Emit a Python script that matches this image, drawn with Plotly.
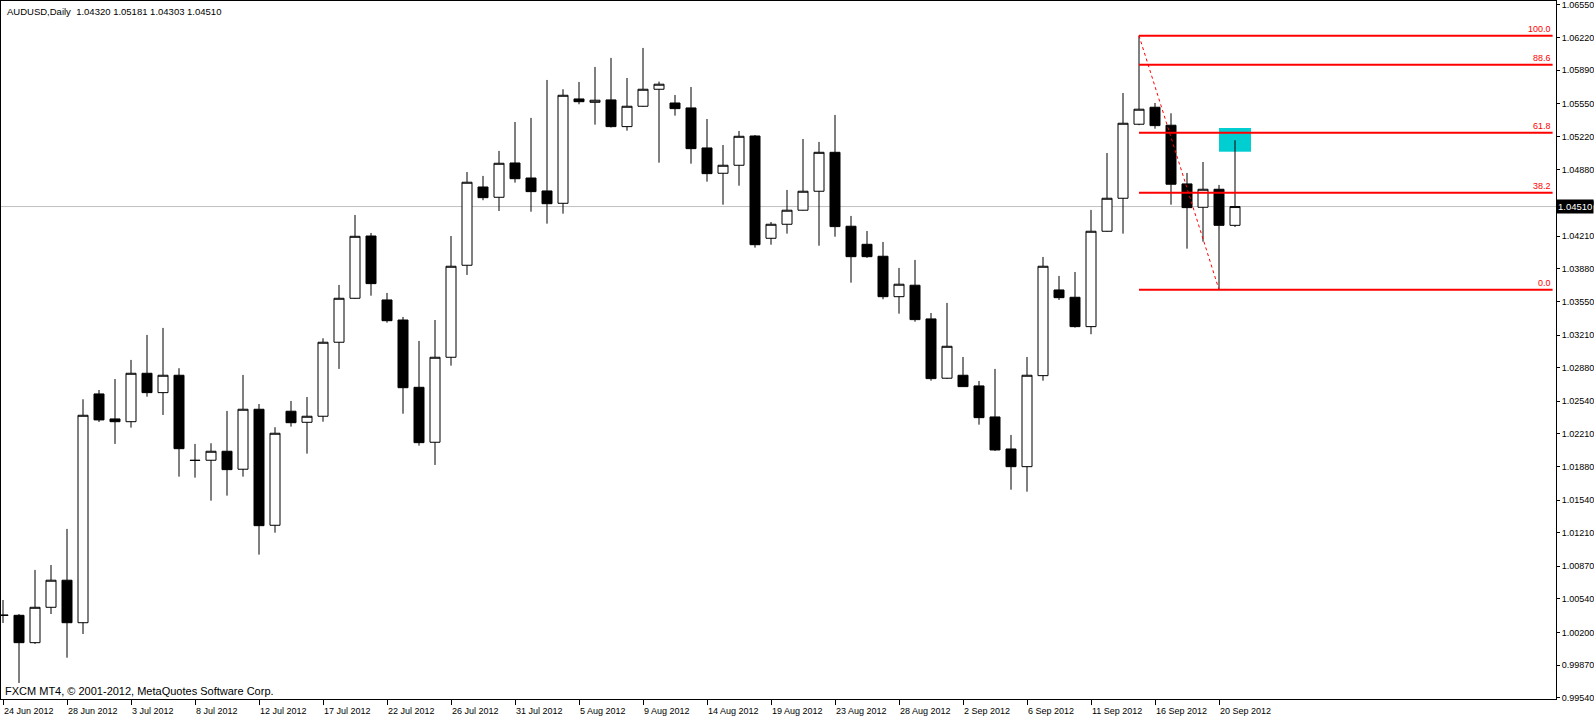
import plotly.graph_objects as go

# ---------------- data ----------------
bar_index = list(range(78))

open_ = [1.00378, 1.00374, 1.00097, 1.00455, 1.00729, 1.00299, 1.02614, 1.02361, 1.02333, 1.02823,
         1.02627, 1.02803, 1.01943, 1.01943, 1.02034, 1.01852, 1.02459, 1.01285, 1.02439, 1.02327,
         1.02388, 1.03137, 1.03582, 1.04212, 1.03565, 1.03362, 1.02681, 1.02125, 1.02985, 1.03916,
         1.04708, 1.04604, 1.04951, 1.04799, 1.04668, 1.04543, 1.05599, 1.05565, 1.05589, 1.05319,
         1.05525, 1.05697, 1.05558, 1.05508, 1.05103, 1.04847, 1.04928, 1.05224, 1.04189, 1.04331,
         1.04473, 1.04665, 1.05059, 1.04311, 1.04128, 1.04007, 1.03598, 1.03714, 1.03373, 1.02773,
         1.02803, 1.02695, 1.02381, 1.02057, 1.01878, 1.02799, 1.03666, 1.03592, 1.03295, 1.04260,
         1.04594, 1.05343, 1.05515, 1.05333, 1.04739, 1.04503, 1.04685, 1.04320]
high = [1.00529, 1.00387, 1.00833, 1.00883, 1.01248, 1.02560, 1.02654, 1.02765, 1.02958, 1.03211,
        1.03282, 1.02874, 1.02108, 1.02115, 1.02442, 1.02806, 1.02512, 1.02277, 1.02543, 1.02583,
        1.03177, 1.03717, 1.04425, 1.04243, 1.03636, 1.03393, 1.03150, 1.03362, 1.04212, 1.04860,
        1.04820, 1.05073, 1.05366, 1.05407, 1.05791, 1.05697, 1.05771, 1.05923, 1.06014, 1.05811,
        1.06115, 1.05774, 1.05639, 1.05720, 1.05396, 1.05133, 1.05275, 1.05234, 1.04354, 1.04678,
        1.05194, 1.05164, 1.05437, 1.04415, 1.04263, 1.04152, 1.03889, 1.03970, 1.03433, 1.03535,
        1.02988, 1.02745, 1.02867, 1.02199, 1.02988, 1.04000, 1.03808, 1.03848, 1.04476, 1.05052,
        1.05659, 1.06239, 1.05558, 1.05454, 1.04850, 1.04961, 1.04729, 1.05181]
low = [1.00296, 0.99689, 1.00084, 1.00387, 0.99945, 1.00185, 1.02330, 1.02108, 1.02273, 1.02586,
       1.02401, 1.01777, 1.01767, 1.01534, 1.01585, 1.01777, 1.00988, 1.01210, 1.02283, 1.02010,
       1.02333, 1.02867, 1.03575, 1.03608, 1.03335, 1.02414, 1.02091, 1.01895, 1.02900, 1.03818,
       1.04574, 1.04465, 1.04752, 1.04458, 1.04337, 1.04438, 1.05545, 1.05339, 1.05310, 1.05278,
       1.05520, 1.04954, 1.05430, 1.04944, 1.04762, 1.04529, 1.04721, 1.04094, 1.04124, 1.04236,
       1.04470, 1.04114, 1.04205, 1.03740, 1.03990, 1.03572, 1.03426, 1.03345, 1.02748, 1.02765,
       1.02685, 1.02303, 1.02037, 1.01645, 1.01625, 1.02748, 1.03565, 1.03285, 1.03218, 1.04255,
       1.04236, 1.05333, 1.05298, 1.04529, 1.04084, 1.04155, 1.03669, 1.04303]
close = [1.00372, 1.00097, 1.00455, 1.00729, 1.00299, 1.02398, 1.02351, 1.02333, 1.02823, 1.02627,
         1.02803, 1.02060, 1.01941, 1.02034, 1.01848, 1.02459, 1.01281, 1.02216, 1.02323, 1.02388,
         1.03137, 1.03582, 1.04209, 1.03730, 1.03355, 1.02677, 1.02121, 1.02985, 1.03906, 1.04756,
         1.04600, 1.04948, 1.04792, 1.04661, 1.04539, 1.05636, 1.05571, 1.05586, 1.05319, 1.05525,
         1.05697, 1.05748, 1.05501, 1.05096, 1.04843, 1.04928, 1.05221, 1.04124, 1.04331, 1.04473,
         1.04665, 1.05059, 1.04307, 1.04003, 1.04003, 1.03598, 1.03724, 1.03366, 1.02769, 1.03096,
         1.02688, 1.02374, 1.02047, 1.01878, 1.02803, 1.03906, 1.03588, 1.03295, 1.04260, 1.04594,
         1.05353, 1.05495, 1.05329, 1.04736, 1.04499, 1.04685, 1.04320, 1.04510]

date_tick_bars = [0, 4, 8, 12, 16, 20, 24, 28, 32, 36, 40, 44, 48, 52, 56, 60, 64, 68, 72, 76]
date_labels = ["24 Jun 2012", "28 Jun 2012", "3 Jul 2012", "8 Jul 2012", "12 Jul 2012",
               "17 Jul 2012", "22 Jul 2012", "26 Jul 2012", "31 Jul 2012", "5 Aug 2012",
               "9 Aug 2012", "14 Aug 2012", "19 Aug 2012", "23 Aug 2012", "28 Aug 2012",
               "2 Sep 2012", "6 Sep 2012", "11 Sep 2012", "16 Sep 2012", "20 Sep 2012"]

price_ticks = [1.06550, 1.06220, 1.05890, 1.05550, 1.05220, 1.04880, 1.04550, 1.04210,
               1.03880, 1.03550, 1.03210, 1.02880, 1.02540, 1.02210, 1.01880, 1.01540,
               1.01210, 1.00870, 1.00540, 1.00200, 0.99870, 0.99540]
price_labels = ["%.5f" % v for v in price_ticks]

fib_percents = [100.0, 88.6, 61.8, 38.2, 0.0]
fib_bars = [71, 76]          # swing high bar, swing low bar
fib_high = 1.06239
fib_low = 1.03669
fib_end_bar = 96.85

zone_bars = [76, 78]
zone_prices = [1.05065, 1.05305]

last_price = 1.04510
title_text = "AUDUSD,Daily  1.04320 1.05181 1.04303 1.04510"
footer_text = "FXCM MT4, \u00a9 2001-2012, MetaQuotes Software Corp."

# ---------------- figure ----------------
FONT = "Liberation Sans"
RED = "#FF0000"

fig = go.Figure()

# fibonacci lines
fib_values = [fib_low + p / 100.0 * (fib_high - fib_low) for p in fib_percents]
for p, v in zip(fib_percents, fib_values):
    fig.add_trace(go.Scatter(x=[fib_bars[0], fib_end_bar], y=[v, v], mode="lines",
                             line=dict(color=RED, width=2), hoverinfo="skip", showlegend=False))

# current price line
fig.add_shape(type="line", xref="paper", x0=0, x1=1, yref="y", y0=last_price, y1=last_price,
              line=dict(color="#C0C0C0", width=1), layer="below")

# cyan zone
fig.add_shape(type="rect", xref="x", yref="y", x0=zone_bars[0], x1=zone_bars[1],
              y0=zone_prices[0], y1=zone_prices[1], fillcolor="#00CED1",
              line=dict(width=0), layer="below")

# candles
fig.add_trace(go.Candlestick(
    x=bar_index, open=open_, high=high, low=low, close=close,
    increasing=dict(line=dict(color="black", width=1), fillcolor="white"),
    decreasing=dict(line=dict(color="black", width=1), fillcolor="black"),
    whiskerwidth=0, hoverinfo="skip", showlegend=False))

# fib trend line (dotted)
fig.add_trace(go.Scatter(x=fib_bars, y=[fib_high, fib_low], mode="lines",
                         line=dict(color=RED, width=1, dash="dot"),
                         hoverinfo="skip", showlegend=False))

annotations = []
for p, v in zip(fib_percents, fib_values):
    annotations.append(dict(x=fib_end_bar, y=v, xref="x", yref="y", text="%.1f" % p,
                            showarrow=False, xanchor="right", yanchor="bottom", yshift=0,
                            font=dict(family=FONT, size=9, color=RED)))
annotations.append(dict(x=1, y=last_price, xref="paper", yref="y", text="%.5f" % last_price,
                        showarrow=False, xanchor="left", yanchor="middle", xshift=0,
                        bgcolor="black", borderpad=1,
                        font=dict(family=FONT, size=9.5, color="white")))
annotations.append(dict(x=0, y=1, xref="paper", yref="paper", text=title_text,
                        showarrow=False, xanchor="left", yanchor="top", xshift=4, yshift=-3,
                        font=dict(family=FONT, size=9.5, color="black")))
annotations.append(dict(x=0, y=0, xref="paper", yref="paper", text=footer_text,
                        showarrow=False, xanchor="left", yanchor="bottom", xshift=2, yshift=0,
                        font=dict(family=FONT, size=11, color="black")))

fig.update_layout(
    width=1594, height=718,
    margin=dict(l=1, r=38, t=1, b=19, pad=0, autoexpand=False),
    paper_bgcolor="white", plot_bgcolor="white",
    boxgap=0, boxgroupgap=0.375,
    showlegend=False,
    annotations=annotations,
    xaxis=dict(range=[-0.125, 97.0625], showgrid=False, zeroline=False,
               showline=True, mirror=True, linecolor="black", linewidth=1,
               ticks="outside", ticklen=5, tickcolor="black",
               tickvals=date_tick_bars, ticktext=date_labels, tickangle=0,
               ticklabelposition="outside right", automargin=False,
               ticklabelstandoff=3,
               tickfont=dict(family=FONT, size=9, color="black"),
               rangeslider=dict(visible=False), fixedrange=True),
    yaxis=dict(range=[0.99527, 1.06590], side="right", showgrid=False, zeroline=False,
               showline=True, mirror=True, linecolor="black", linewidth=1,
               ticks="outside", ticklen=3, tickcolor="black", automargin=False,
               tickvals=price_ticks, ticktext=price_labels,
               tickfont=dict(family=FONT, size=9, color="black"), fixedrange=True),
)

fig.write_html("out.html", config={"displayModeBar": False},
               post_script="document.body.style.margin='0';document.body.style.overflow='hidden';")
